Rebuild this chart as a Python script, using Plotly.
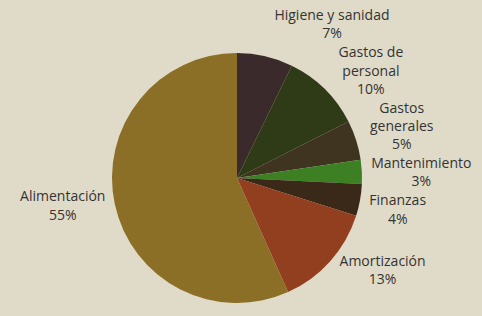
import plotly.graph_objects as go

labels = ["Higiene y sanidad", "Gastos de<br>personal", "Gastos<br>generales",
          "Mantenimiento", "Finanzas", "Amortización", "Alimentación"]
values = [7, 10, 5, 3, 4, 13, 55]
colors = ["#3a2a2c", "#2f3a16", "#3e3420", "#3d8024", "#3a2818", "#923f1f", "#8c6f26"]

W, H = 482, 316
cx, cy, r = 237, 178, 125

fig = go.Figure(go.Pie(
    labels=labels,
    values=values,
    sort=False,
    direction="clockwise",
    rotation=0,
    marker=dict(colors=colors, line=dict(width=0)),
    texttemplate="%{label}<br>%{value}%",
    textposition="outside",
    textfont=dict(family="Open Sans", size=14, color="#353333"),
    domain=dict(x=[(cx - r) / W, (cx + r) / W], y=[(H - cy - r) / H, (H - cy + r) / H]),
    showlegend=False,
    hoverinfo="label+value",
))

fig.update_layout(
    width=W, height=H,
    margin=dict(l=0, r=0, t=0, b=0),
    paper_bgcolor="#dfdbc8",
    plot_bgcolor="#dfdbc8",
)

post = ("document.body.style.margin='0';"
        "var s=document.createElement('style');"
        "s.textContent='path.textline{display:none}';"
        "document.head.appendChild(s);")

fig.write_html("out.html", post_script=post, config={"displayModeBar": False})
